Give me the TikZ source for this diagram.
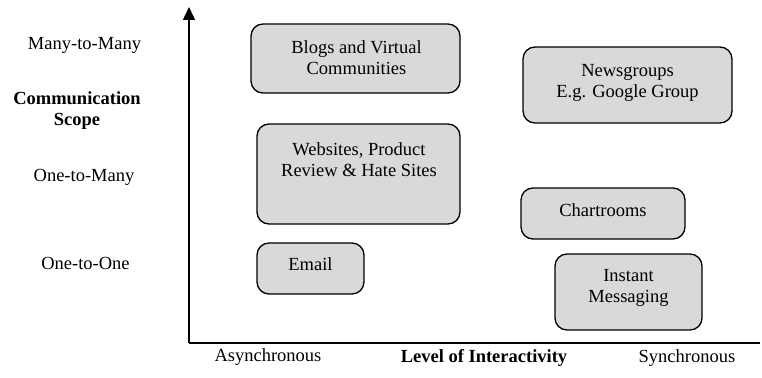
\documentclass[tikz,border=0pt]{standalone}
\usepackage{fontspec}
\setmainfont{Liberation Serif}
\usetikzlibrary{arrows.meta}
\definecolor{boxgray}{HTML}{D9D9D9}
\begin{document}
\begin{tikzpicture}[x=1pt,y=-1pt,
  box/.style={draw=black, line width=1.3pt, fill=boxgray, rounded corners=12pt, inner sep=0pt},
  txt/.style={align=center, inner sep=0pt, font=\fontsize{18.5}{21}\selectfont},
  boldtxt/.style={align=center, inner sep=0pt, font=\fontsize{18.5}{21}\selectfont\bfseries},
  axis/.style={line width=1.4pt}]
\useasboundingbox (0,0) rectangle (762,377);
% axes
\coordinate (origin) at (189,343);
\coordinate (ytop) at (189,7);
\coordinate (xend) at (760,343);
\draw[axis, -{Triangle[length=13pt,width=12pt]}] (origin) -- (ytop);
\draw[axis] (origin) -- (xend);
% boxes
\node[box, minimum width=209pt, minimum height=69pt] (blogs) at (355.5,58.5) {};
\node[txt] (blogst) at (356.5,58) {Blogs and Virtual\\Communities};
\node[box, minimum width=203pt, minimum height=100pt] (web) at (358.5,174) {};
\node[txt] (webt) at (359,160) {Websites, Product\\Review \& Hate Sites};
\node[box, minimum width=107pt, minimum height=51pt] (email) at (310.5,268.5) {};
\node[txt] (emailt) at (310.5,264) {Email};
\node[box, minimum width=209pt, minimum height=76pt] (news) at (627.5,85) {};
\node[txt] (newst) at (627.5,82.5) {Newsgroups\\E.g. Google Group};
\node[box, minimum width=164pt, minimum height=51pt] (chat) at (603,213.5) {};
\node[txt] (chatt) at (603,210) {Chartrooms};
\node[box, minimum width=147pt, minimum height=76pt] (im) at (628.5,292) {};
\node[txt] (imt) at (628.5,287.5) {Instant\\Messaging};
% axis labels
\node[txt] (mm) at (84.5,45) {Many-to-Many};
\node[boldtxt] (scope) at (77,110.5) {Communication\\Scope};
\node[txt] (om) at (84,177) {One-to-Many};
\node[txt] (oo) at (85.5,263) {One-to-One};
\node[txt] (async) at (268,357) {Asynchronous};
\node[boldtxt] (level) at (484,358) {Level of Interactivity};
\node[txt] (sync) at (687,358) {Synchronous};
\end{tikzpicture}
\end{document}
